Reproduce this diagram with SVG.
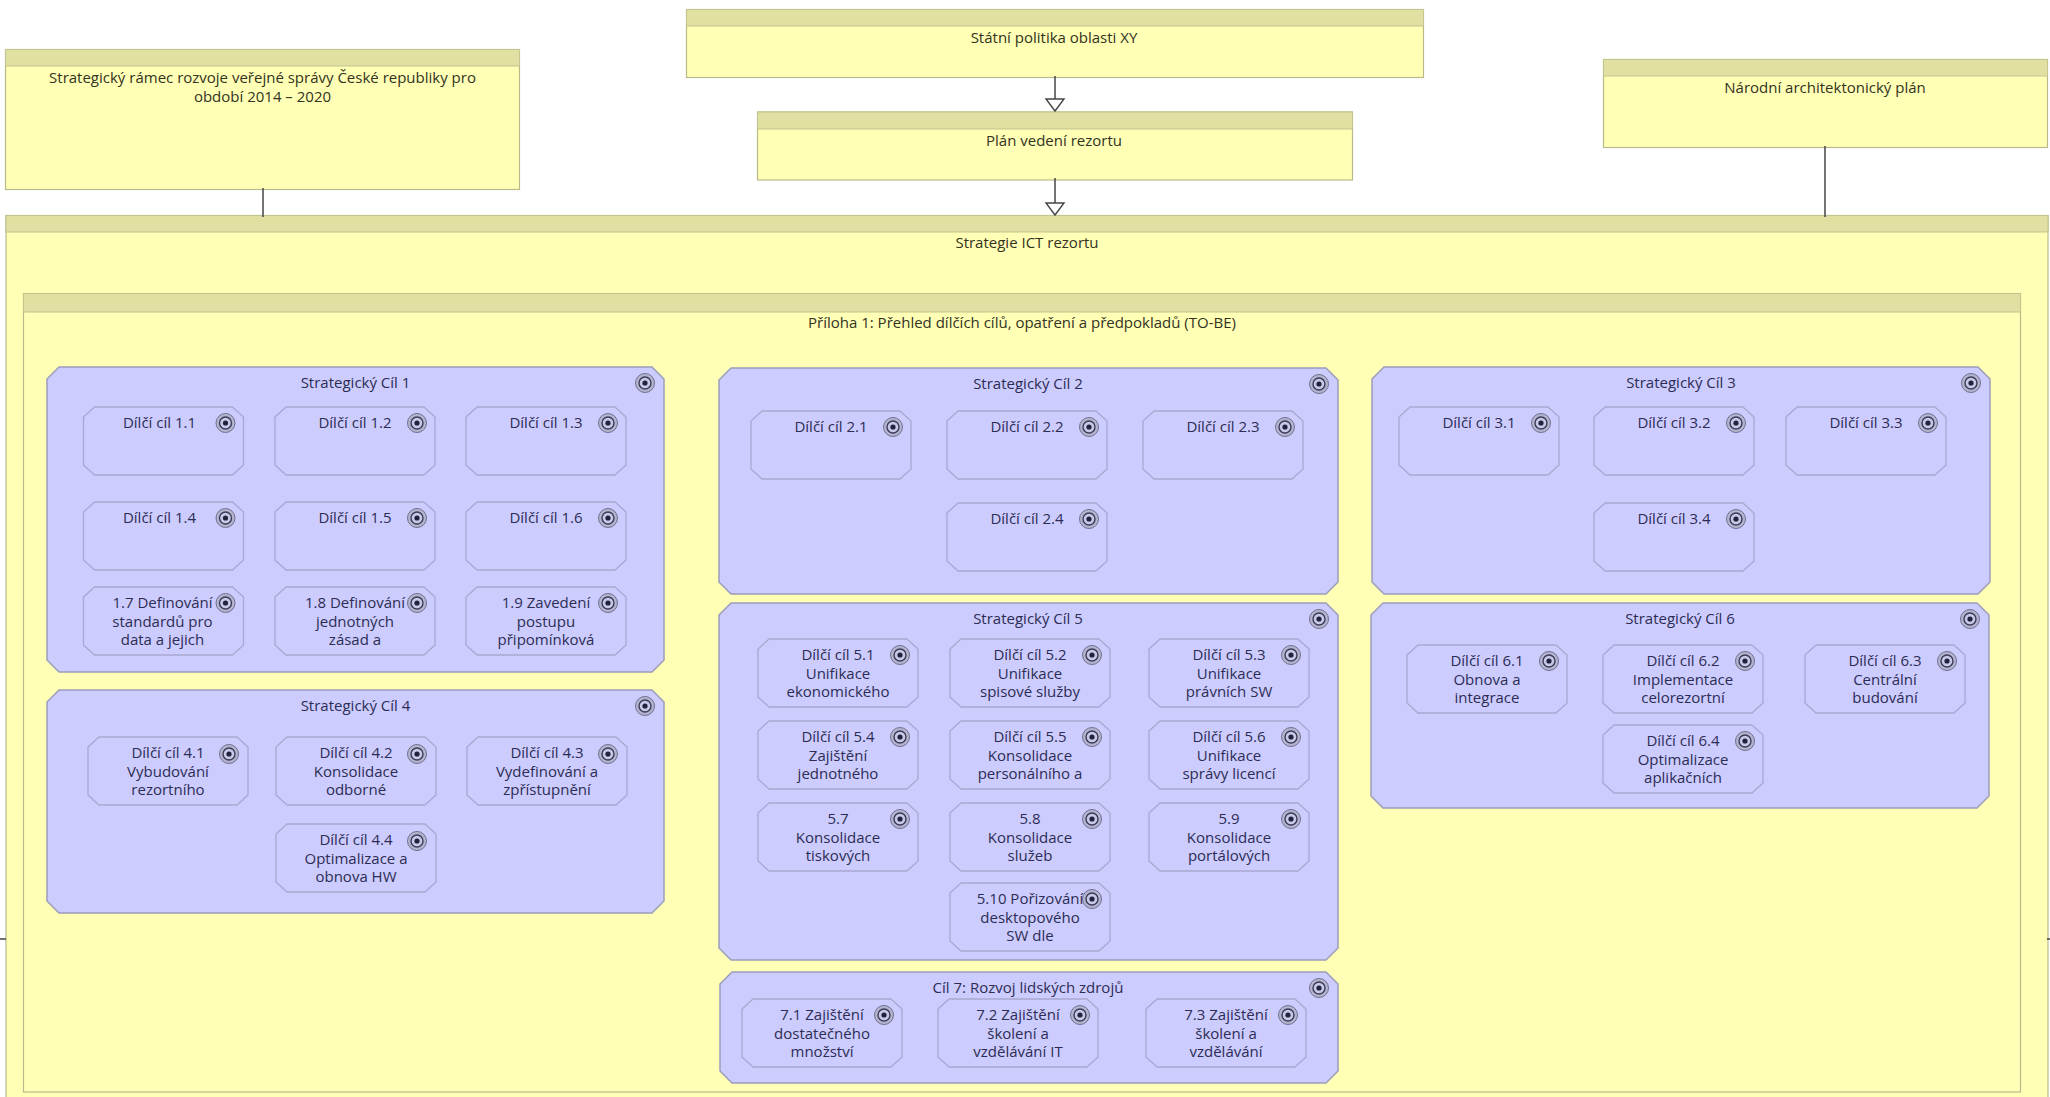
<svg xmlns="http://www.w3.org/2000/svg" xmlns:xlink="http://www.w3.org/1999/xlink" width="2050" height="1097" viewBox="0 0 2050 1097">
<style>
text{font-family:"Open Sans","Liberation Sans",sans-serif;font-size:15px;text-anchor:middle}
.ybody{fill:#ffffb5;stroke:#b9b98c;stroke-width:1.2}
.yhead{fill:#e0e0a2;stroke:#c4c48e;stroke-width:1}
.yt{fill:#33331f}
.goal{fill:#ccccff;stroke:#9c9cbc;stroke-width:1.5;stroke-linejoin:round}
.sub{fill:#ccccff;stroke:#a8a8d0;stroke-width:1.3;stroke-linejoin:round}
.pt{fill:#2c2c54}
.con{fill:none;stroke:#444;stroke-width:1.5}
.head{fill:#fff;stroke:#444;stroke-width:1.4}
</style>
<defs>
<polygon id="subshape" class="sub" points="11,0 149,0 160,10 160,58 149,68 11,68 0,58 0,10"/>
<g id="target"><circle r="9.5" fill="#b4b4d0" stroke="#70708e" stroke-width="1"/><circle r="6" fill="#c8c8e8" stroke="#3c3c58" stroke-width="1.4"/><circle r="2.600" fill="#22223a"/></g>
</defs>
<rect width="2050" height="1097" fill="#fff"/>

<g id="ramec"><rect class="ybody" x="5.500" y="49.500" width="514" height="140"/><rect class="yhead" x="5.500" y="49.500" width="514" height="16.500"/><text class="yt" x="262.500" y="83">Strategický rámec rozvoje veřejné správy České republiky pro</text><text class="yt" x="262.500" y="102">období 2014 – 2020</text></g>
<g id="statni"><rect class="ybody" x="686.500" y="9.500" width="737" height="68"/><rect class="yhead" x="686.500" y="9.500" width="737" height="16.500"/><text class="yt" x="1054" y="43">Státní politika oblasti XY</text></g>
<g id="plan"><rect class="ybody" x="757.500" y="112" width="595" height="68"/><rect class="yhead" x="757.500" y="112" width="595" height="17"/><text class="yt" x="1054" y="146">Plán vedení rezortu</text></g>
<g id="narodni"><rect class="ybody" x="1603.500" y="59.500" width="444" height="88"/><rect class="yhead" x="1603.500" y="59.500" width="444" height="16.500"/><text class="yt" x="1825" y="93">Národní architektonický plán</text></g>
<g id="strategie"><rect class="ybody" x="6" y="215.500" width="2042" height="890"/><rect class="yhead" x="6" y="215.500" width="2042" height="16.500"/><text class="yt" x="1027" y="248">Strategie ICT rezortu</text></g>
<g id="priloha"><rect class="ybody" x="23.500" y="293.500" width="1997" height="798.500"/><rect class="yhead" x="23.500" y="293.500" width="1997" height="18.500"/><text class="yt" x="1022" y="328">Příloha 1: Přehled dílčích cílů, opatření a předpokladů (TO-BE)</text></g>

<g id="connectors">
<line class="con" x1="263" y1="188" x2="263" y2="217"/>
<line class="con" x1="1825" y1="146" x2="1825" y2="217"/>
<line class="con" x1="1055" y1="76" x2="1055" y2="99"/><polygon class="head" points="1046,99 1064,99 1055,111"/>
<line class="con" x1="1055" y1="178" x2="1055" y2="203"/><polygon class="head" points="1046,203 1064,203 1055,215"/>
<line class="con" x1="0" y1="939" x2="6" y2="939"/>
<line class="con" x1="2047" y1="939" x2="2050" y2="939"/>
</g>

<g id="cil1"><polygon class="goal" points="59,367 652,367 664,379 664,660 652,672 59,672 47,660 47,379"/><text class="pt" x="355.500" y="388">Strategický Cíl 1</text><use xlink:href="#target" x="645" y="383"/></g>
<g id="cil4"><polygon class="goal" points="59,690 652,690 664,702 664,901 652,913 59,913 47,901 47,702"/><text class="pt" x="355.500" y="711">Strategický Cíl 4</text><use xlink:href="#target" x="645" y="706"/></g>
<g id="cil2"><polygon class="goal" points="731,368 1326,368 1338,380 1338,582 1326,594 731,594 719,582 719,380"/><text class="pt" x="1028" y="389">Strategický Cíl 2</text><use xlink:href="#target" x="1319" y="384"/></g>
<g id="cil5"><polygon class="goal" points="731,603 1326,603 1338,615 1338,948 1326,960 731,960 719,948 719,615"/><text class="pt" x="1028" y="624">Strategický Cíl 5</text><use xlink:href="#target" x="1319" y="619"/></g>
<g id="cil7"><polygon class="goal" points="732,972 1326,972 1338,984 1338,1071 1326,1083 732,1083 720,1071 720,984"/><text class="pt" x="1028" y="993">Cíl 7: Rozvoj lidských zdrojů</text><use xlink:href="#target" x="1319" y="988"/></g>
<g id="cil3"><polygon class="goal" points="1384,367 1978,367 1990,379 1990,582 1978,594 1384,594 1372,582 1372,379"/><text class="pt" x="1681" y="388">Strategický Cíl 3</text><use xlink:href="#target" x="1971" y="383"/></g>
<g id="cil6"><polygon class="goal" points="1383,603 1977,603 1989,615 1989,796 1977,808 1383,808 1371,796 1371,615"/><text class="pt" x="1680" y="624">Strategický Cíl 6</text><use xlink:href="#target" x="1970" y="619"/></g>

<g id="n1-1" transform="translate(83.500,407)"><use xlink:href="#subshape"/><text class="pt" x="76" y="21">Dílčí cíl 1.1</text><use xlink:href="#target" x="142" y="16"/></g>
<g id="n1-2" transform="translate(275,407)"><use xlink:href="#subshape"/><text class="pt" x="80" y="21">Dílčí cíl 1.2</text><use xlink:href="#target" x="142" y="16"/></g>
<g id="n1-3" transform="translate(466,407)"><use xlink:href="#subshape"/><text class="pt" x="80" y="21">Dílčí cíl 1.3</text><use xlink:href="#target" x="142" y="16"/></g>
<g id="n1-4" transform="translate(83.500,502)"><use xlink:href="#subshape"/><text class="pt" x="76" y="21">Dílčí cíl 1.4</text><use xlink:href="#target" x="142" y="16"/></g>
<g id="n1-5" transform="translate(275,502)"><use xlink:href="#subshape"/><text class="pt" x="80" y="21">Dílčí cíl 1.5</text><use xlink:href="#target" x="142" y="16"/></g>
<g id="n1-6" transform="translate(466,502)"><use xlink:href="#subshape"/><text class="pt" x="80" y="21">Dílčí cíl 1.6</text><use xlink:href="#target" x="142" y="16"/></g>
<g id="n1-7" transform="translate(83.500,587)"><use xlink:href="#subshape"/><text class="pt" x="79" y="21">1.7 Definování</text><text class="pt" x="79" y="40">standardů pro</text><text class="pt" x="79" y="58">data a jejich</text><use xlink:href="#target" x="142" y="16"/></g>
<g id="n1-8" transform="translate(275,587)"><use xlink:href="#subshape"/><text class="pt" x="80" y="21">1.8 Definování</text><text class="pt" x="80" y="40">jednotných</text><text class="pt" x="80" y="58">zásad a</text><use xlink:href="#target" x="142" y="16"/></g>
<g id="n1-9" transform="translate(466,587)"><use xlink:href="#subshape"/><text class="pt" x="80" y="21">1.9 Zavedení</text><text class="pt" x="80" y="40">postupu</text><text class="pt" x="80" y="58">připomínková</text><use xlink:href="#target" x="142" y="16"/></g>

<g id="n4-1" transform="translate(88,737)"><use xlink:href="#subshape"/><text class="pt" x="80" y="21">Dílčí cíl 4.1</text><text class="pt" x="80" y="40">Vybudování</text><text class="pt" x="80" y="58">rezortního</text><use xlink:href="#target" x="141" y="17"/></g>
<g id="n4-2" transform="translate(276,737)"><use xlink:href="#subshape"/><text class="pt" x="80" y="21">Dílčí cíl 4.2</text><text class="pt" x="80" y="40">Konsolidace</text><text class="pt" x="80" y="58">odborné</text><use xlink:href="#target" x="141" y="17"/></g>
<g id="n4-3" transform="translate(467,737)"><use xlink:href="#subshape"/><text class="pt" x="80" y="21">Dílčí cíl 4.3</text><text class="pt" x="80" y="40">Vydefinování a</text><text class="pt" x="80" y="58">zpřístupnění</text><use xlink:href="#target" x="141" y="17"/></g>
<g id="n4-4" transform="translate(276,824)"><use xlink:href="#subshape"/><text class="pt" x="80" y="21">Dílčí cíl 4.4</text><text class="pt" x="80" y="40">Optimalizace a</text><text class="pt" x="80" y="58">obnova HW</text><use xlink:href="#target" x="141" y="17"/></g>

<g id="n2-1" transform="translate(751,411)"><use xlink:href="#subshape"/><text class="pt" x="80" y="21">Dílčí cíl 2.1</text><use xlink:href="#target" x="142" y="16"/></g>
<g id="n2-2" transform="translate(947,411)"><use xlink:href="#subshape"/><text class="pt" x="80" y="21">Dílčí cíl 2.2</text><use xlink:href="#target" x="142" y="16"/></g>
<g id="n2-3" transform="translate(1143,411)"><use xlink:href="#subshape"/><text class="pt" x="80" y="21">Dílčí cíl 2.3</text><use xlink:href="#target" x="142" y="16"/></g>
<g id="n2-4" transform="translate(947,503)"><use xlink:href="#subshape"/><text class="pt" x="80" y="21">Dílčí cíl 2.4</text><use xlink:href="#target" x="142" y="16"/></g>

<g id="n3-1" transform="translate(1399,407)"><use xlink:href="#subshape"/><text class="pt" x="80" y="21">Dílčí cíl 3.1</text><use xlink:href="#target" x="142" y="16"/></g>
<g id="n3-2" transform="translate(1594,407)"><use xlink:href="#subshape"/><text class="pt" x="80" y="21">Dílčí cíl 3.2</text><use xlink:href="#target" x="142" y="16"/></g>
<g id="n3-3" transform="translate(1786,407)"><use xlink:href="#subshape"/><text class="pt" x="80" y="21">Dílčí cíl 3.3</text><use xlink:href="#target" x="142" y="16"/></g>
<g id="n3-4" transform="translate(1594,503)"><use xlink:href="#subshape"/><text class="pt" x="80" y="21">Dílčí cíl 3.4</text><use xlink:href="#target" x="142" y="16"/></g>

<g id="n5-1" transform="translate(758,639)"><use xlink:href="#subshape"/><text class="pt" x="80" y="21">Dílčí cíl 5.1</text><text class="pt" x="80" y="40">Unifikace</text><text class="pt" x="80" y="58">ekonomického</text><use xlink:href="#target" x="142" y="16"/></g>
<g id="n5-2" transform="translate(950,639)"><use xlink:href="#subshape"/><text class="pt" x="80" y="21">Dílčí cíl 5.2</text><text class="pt" x="80" y="40">Unifikace</text><text class="pt" x="80" y="58">spisové služby</text><use xlink:href="#target" x="142" y="16"/></g>
<g id="n5-3" transform="translate(1149,639)"><use xlink:href="#subshape"/><text class="pt" x="80" y="21">Dílčí cíl 5.3</text><text class="pt" x="80" y="40">Unifikace</text><text class="pt" x="80" y="58">právních SW</text><use xlink:href="#target" x="142" y="16"/></g>
<g id="n5-4" transform="translate(758,721)"><use xlink:href="#subshape"/><text class="pt" x="80" y="21">Dílčí cíl 5.4</text><text class="pt" x="80" y="40">Zajištění</text><text class="pt" x="80" y="58">jednotného</text><use xlink:href="#target" x="142" y="16"/></g>
<g id="n5-5" transform="translate(950,721)"><use xlink:href="#subshape"/><text class="pt" x="80" y="21">Dílčí cíl 5.5</text><text class="pt" x="80" y="40">Konsolidace</text><text class="pt" x="80" y="58">personálního a</text><use xlink:href="#target" x="142" y="16"/></g>
<g id="n5-6" transform="translate(1149,721)"><use xlink:href="#subshape"/><text class="pt" x="80" y="21">Dílčí cíl 5.6</text><text class="pt" x="80" y="40">Unifikace</text><text class="pt" x="80" y="58">správy licencí</text><use xlink:href="#target" x="142" y="16"/></g>
<g id="n5-7" transform="translate(758,803)"><use xlink:href="#subshape"/><text class="pt" x="80" y="21">5.7</text><text class="pt" x="80" y="40">Konsolidace</text><text class="pt" x="80" y="58">tiskových</text><use xlink:href="#target" x="142" y="16"/></g>
<g id="n5-8" transform="translate(950,803)"><use xlink:href="#subshape"/><text class="pt" x="80" y="21">5.8</text><text class="pt" x="80" y="40">Konsolidace</text><text class="pt" x="80" y="58">služeb</text><use xlink:href="#target" x="142" y="16"/></g>
<g id="n5-9" transform="translate(1149,803)"><use xlink:href="#subshape"/><text class="pt" x="80" y="21">5.9</text><text class="pt" x="80" y="40">Konsolidace</text><text class="pt" x="80" y="58">portálových</text><use xlink:href="#target" x="142" y="16"/></g>
<g id="n5-10" transform="translate(950,883)"><use xlink:href="#subshape"/><text class="pt" x="80" y="21">5.10 Pořizování</text><text class="pt" x="80" y="40">desktopového</text><text class="pt" x="80" y="58">SW dle</text><use xlink:href="#target" x="142" y="16"/></g>

<g id="n7-1" transform="translate(742,999)"><use xlink:href="#subshape"/><text class="pt" x="80" y="21">7.1 Zajištění</text><text class="pt" x="80" y="40">dostatečného</text><text class="pt" x="80" y="58">množství</text><use xlink:href="#target" x="142" y="16"/></g>
<g id="n7-2" transform="translate(938,999)"><use xlink:href="#subshape"/><text class="pt" x="80" y="21">7.2 Zajištění</text><text class="pt" x="80" y="40">školení a</text><text class="pt" x="80" y="58">vzdělávání IT</text><use xlink:href="#target" x="142" y="16"/></g>
<g id="n7-3" transform="translate(1146,999)"><use xlink:href="#subshape"/><text class="pt" x="80" y="21">7.3 Zajištění</text><text class="pt" x="80" y="40">školení a</text><text class="pt" x="80" y="58">vzdělávání</text><use xlink:href="#target" x="142" y="16"/></g>

<g id="n6-1" transform="translate(1407,645)"><use xlink:href="#subshape"/><text class="pt" x="80" y="21">Dílčí cíl 6.1</text><text class="pt" x="80" y="40">Obnova a</text><text class="pt" x="80" y="58">integrace</text><use xlink:href="#target" x="142" y="16"/></g>
<g id="n6-2" transform="translate(1603,645)"><use xlink:href="#subshape"/><text class="pt" x="80" y="21">Dílčí cíl 6.2</text><text class="pt" x="80" y="40">Implementace</text><text class="pt" x="80" y="58">celorezortní</text><use xlink:href="#target" x="142" y="16"/></g>
<g id="n6-3" transform="translate(1805,645)"><use xlink:href="#subshape"/><text class="pt" x="80" y="21">Dílčí cíl 6.3</text><text class="pt" x="80" y="40">Centrální</text><text class="pt" x="80" y="58">budování</text><use xlink:href="#target" x="142" y="16"/></g>
<g id="n6-4" transform="translate(1603,725)"><use xlink:href="#subshape"/><text class="pt" x="80" y="21">Dílčí cíl 6.4</text><text class="pt" x="80" y="40">Optimalizace</text><text class="pt" x="80" y="58">aplikačních</text><use xlink:href="#target" x="142" y="16"/></g>
</svg>
